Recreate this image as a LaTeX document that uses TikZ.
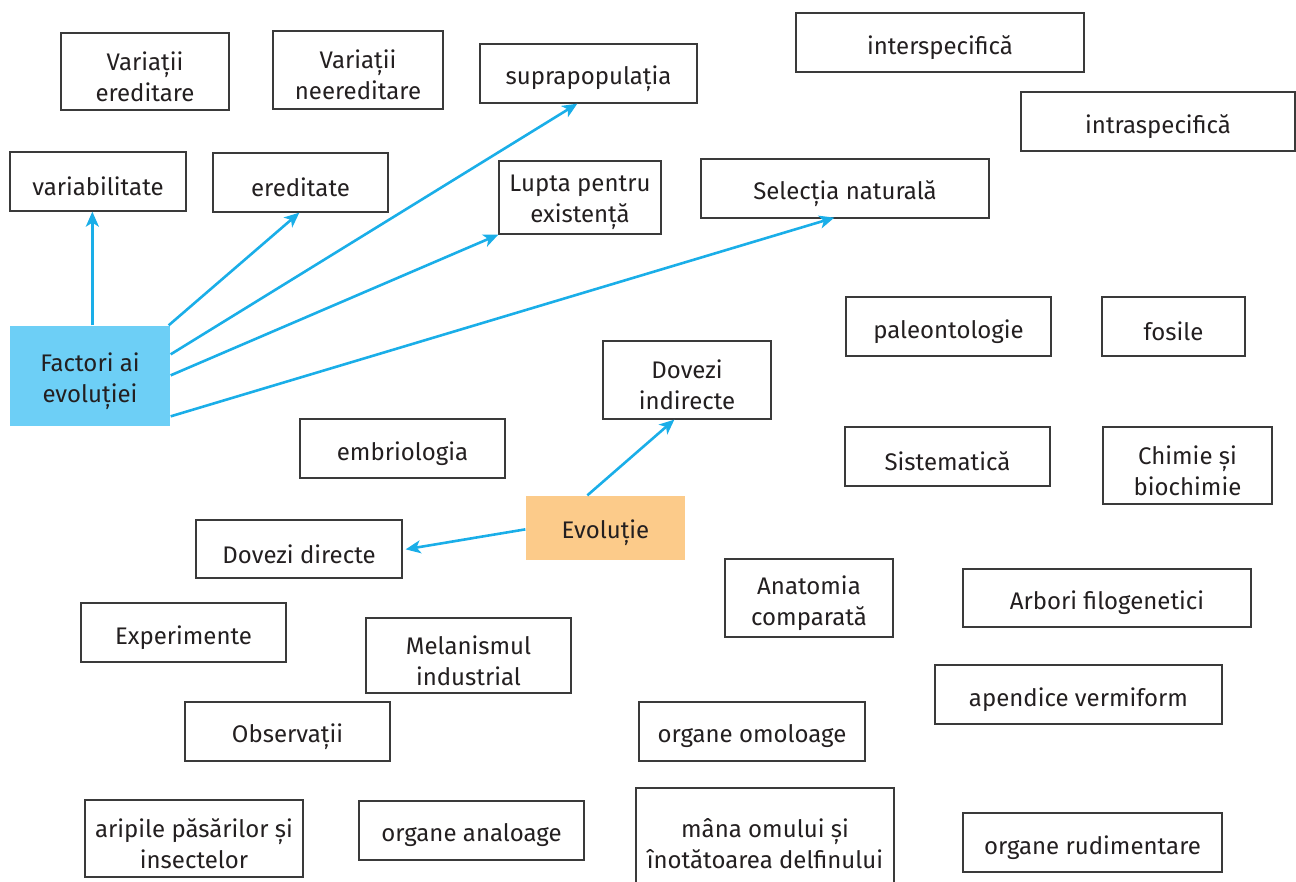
\documentclass[tikz,border=0pt]{standalone}
\usepackage{fontspec}
\setmainfont{Fira Sans}
\usetikzlibrary{arrows.meta,calc}
\definecolor{arrowblue}{HTML}{1AAEE8}
\definecolor{factorblue}{HTML}{6DCFF6}
\definecolor{evoorange}{HTML}{FCCB8A}
\definecolor{boxline}{HTML}{3A3A3A}
\definecolor{txt}{HTML}{231F20}
\tikzset{
  box/.style={draw=boxline, line width=1.3pt, rectangle, inner sep=0pt},
  filledbox/.style={box, draw=none},
  boxtext/.style={inner sep=0pt, align=center, text=txt, font=\fontsize{24pt}{31pt}\selectfont},
  link/.style={draw=arrowblue, line width=2.6pt, -{Stealth[length=15pt,width=13pt,inset=4pt]}},
}
\newcommand\mybox[7][]{%
  \node[box,#1, minimum width={(#5-#3)*1pt}, minimum height={(#6-#4)*1pt}] (#2)
    at ({(#3+#5)/2},{(#4+#6)/2}) {};
  \node[boxtext] (#2-t) at ([yshift=-5pt]#2.center) {#7};}
\begin{document}
\begin{tikzpicture}[x=1pt,y=-1pt]
\useasboundingbox (0,0) rectangle (1296,882);
\mybox{ve}{61}{33}{229}{110}{Variații\\ereditare}
\mybox{vn}{273}{31}{443}{109}{Variații\\neereditare}
\mybox{sup}{480}{44}{697}{103}{suprapopulația}
\mybox{inter}{796}{13}{1084}{72}{interspecifică}
\mybox{intra}{1021}{92}{1295}{151}{intraspecifică}
\mybox{var}{10}{152}{186}{211}{variabilitate}
\mybox{ered}{213}{153}{388}{212}{ereditate}
\mybox{lupta}{499}{161}{661}{234}{Lupta pentru\\existență}
\mybox{sel}{701}{159}{989}{218}{Selecția naturală}
\mybox[filledbox,fill=factorblue]{fac}{10}{326}{170}{426}{Factori ai\\evoluției}
\mybox{pal}{846}{297}{1051}{356}{paleontologie}
\mybox{fos}{1102}{297}{1245}{356}{fosile}
\mybox{dind}{603}{341}{771}{419}{Dovezi\\indirecte}
\mybox{emb}{300}{419}{505}{478}{embriologia}
\mybox{sist}{845}{427}{1050}{486}{Sistematică}
\mybox{chim}{1103}{427}{1272}{504}{Chimie și\\biochimie}
\mybox[filledbox,fill=evoorange]{evo}{526}{496}{685}{560}{Evoluție}
\mybox{ddir}{196}{520}{402}{578}{Dovezi directe}
\mybox{anat}{725}{559}{893}{637}{Anatomia\\comparată}
\mybox{arb}{963}{569}{1251}{627}{Arbori filogenetici}
\mybox{exp}{81}{603}{286}{662}{Experimente}
\mybox{mel}{366}{618}{571}{693}{Melanismul\\industrial}
\mybox{ape}{935}{665}{1222}{724}{apendice vermiform}
\mybox{obs}{185}{702}{390}{761}{Observații}
\mybox{omo}{639}{702}{865}{761}{organe omoloage}
\mybox{arip}{85}{800}{303}{877}{aripile păsărilor și\\insectelor}
\mybox{anal}{359}{801}{584}{860}{organe analoage}
\mybox{mana}{636}{788}{894}{890}{mâna omului și\\înotătoarea delfinului}
\mybox{rud}{963}{813}{1222}{872}{organe rudimentare}
% connectors
\draw[link] ($(fac.north west)+(83,0)$) -- ($(var.south west)+(83,0)$);
\draw[link] ($(fac.north east)+(-2,0)$) -- ($(ered.south west)+(87,0)$);
\draw[link] ($(fac.north east)+(0,29)$) -- ($(sup.south west)+(98,0)$);
\draw[link] ($(fac.north east)+(0,50)$) -- ($(lupta.south west)+(0,0)$);
\draw[link] ($(fac.north east)+(0,91)$) -- ($(sel.south west)+(134,-1)$);
\draw[link] ($(evo.north west)+(62,0)$) -- ($(dind.south west)+(72,0)$);
\draw[link] ($(evo.north west)+(0,34)$) -- ($(ddir.north east)+(3,30)$);
\end{tikzpicture}
\end{document}
